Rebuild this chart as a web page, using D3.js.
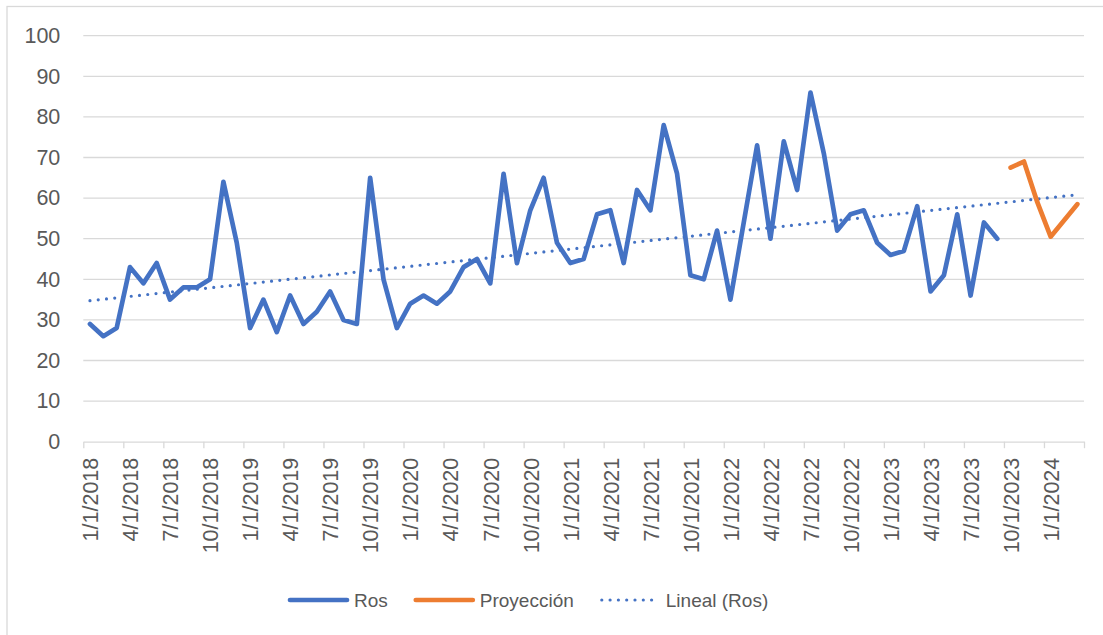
<!DOCTYPE html>
<html>
<head>
<meta charset="utf-8">
<script src="https://cdn.jsdelivr.net/npm/d3@7"></script>
<style>
  body { margin: 0; background: #fff; }
  svg { display: block; font-family: "Liberation Sans", Arial, sans-serif; }
</style>
</head>
<body>
<svg></svg>
<script>
// months from 1/1/2018, one entry per month index
let monthCount = 75;

let rosValues = [
    29, 26, 28, 43, 39, 44, 35, 38, 38, 40, 64, 49,
    28, 35, 27, 36, 29, 32, 37, 30, 29, 65, 40, 28,
    34, 36, 34, 37, 43, 45, 39, 66, 44, 57, 65, 49,
    44, 45, 56, 57, 44, 62, 57, 78, 66, 41, 40, 52,
    35, 54, 73, 50, 74, 62, 86, 71, 52, 56, 57, 49,
    46, 47, 58, 37, 41, 56, 36, 54, 50
];

// projection starts at month index 69 (10/1/2023)
let projStart = 69;
let projValues = [67.5, 69, 59, 50.5, 54.5, 58.5];

let tickLabels = [
    "1/1/2018", "4/1/2018", "7/1/2018", "10/1/2018",
    "1/1/2019", "4/1/2019", "7/1/2019", "10/1/2019",
    "1/1/2020", "4/1/2020", "7/1/2020", "10/1/2020",
    "1/1/2021", "4/1/2021", "7/1/2021", "10/1/2021",
    "1/1/2022", "4/1/2022", "7/1/2022", "10/1/2022",
    "1/1/2023", "4/1/2023", "7/1/2023", "10/1/2023",
    "1/1/2024"
];

let yTicks = [0, 10, 20, 30, 40, 50, 60, 70, 80, 90, 100];
let legendNames = ["Ros", "Proyección", "Lineal (Ros)"];

let width = 1103;
let height = 635;
let plotLeft = 83.3;
let plotRight = 1084;
let plotTop = 35.7;
let plotBottom = 441.7;

let blue = "#4472C4";
let orange = "#ED7D31";
let grid = "#D9D9D9";
let textColor = "#595959";

let svg = d3.select("svg")
    .attr("width", width)
    .attr("height", height);

// chart border
svg.append("rect")
    .attr("x", 7)
    .attr("y", 6.5)
    .attr("width", width + 10)
    .attr("height", height + 10)
    .attr("fill", "#fff")
    .attr("stroke", grid)
    .attr("stroke-width", 1.3);

let xScale = d3.scaleLinear()
    .domain([0, monthCount])
    .range([plotLeft, plotRight]);

let yScale = d3.scaleLinear()
    .domain([0, 100])
    .range([plotBottom, plotTop]);

// gridlines
svg.append("g")
    .selectAll("line")
    .data(yTicks.filter((d) => d > 0))
    .enter()
    .append("line")
    .attr("x1", plotLeft)
    .attr("x2", plotRight)
    .attr("y1", (d) => yScale(d))
    .attr("y2", (d) => yScale(d))
    .attr("stroke", grid)
    .attr("stroke-width", 1.3);

// y axis labels
let yAxis = d3.axisLeft(yScale)
    .tickValues(yTicks)
    .tickSize(0)
    .tickPadding(23);

let yG = svg.append("g")
    .attr("transform", "translate(" + plotLeft + ", 0)")
    .call(yAxis);
yG.select(".domain").remove();
yG.selectAll("text")
    .attr("fill", textColor)
    .style("font-size", "21.5px");

// x axis: ticks every quarter, labels centred on the month
let tickVals = d3.range(0, monthCount + 1, 3);
let xAxis = d3.axisBottom(xScale)
    .tickValues(tickVals)
    .tickSize(6.5)
    .tickSizeOuter(0)
    .tickFormat((d, i) => tickLabels[i] || "");

let xG = svg.append("g")
    .attr("transform", "translate(0, " + plotBottom + ")")
    .call(xAxis);
xG.select(".domain").attr("stroke", grid).attr("stroke-width", 1.3);
xG.selectAll(".tick line").attr("stroke", grid).attr("stroke-width", 1.3);
xG.selectAll("text")
    .attr("fill", textColor)
    .style("font-size", "21.5px")
    .attr("text-anchor", "end")
    .attr("dy", "0.36em")
    .attr("y", 0)
    .attr("transform", "translate(" + (xScale(0.5) - xScale(0)) + ", 16) rotate(-90)");

// trendline (least squares over Ros)
let mx = d3.mean(rosValues, (d, i) => i);
let my = d3.mean(rosValues);
let slope = d3.sum(rosValues, (d, i) => (i - mx) * (d - my)) / d3.sum(rosValues, (d, i) => (i - mx) * (i - mx));
let icpt = my - slope * mx;
let trendEnd = projStart + projValues.length - 1;

let line = d3.line()
    .x((d) => xScale(d[0] + 0.5))
    .y((d) => yScale(d[1]));

svg.append("path")
    .datum([[0, icpt], [trendEnd, icpt + slope * trendEnd]])
    .attr("d", line)
    .attr("fill", "none")
    .attr("stroke", blue)
    .attr("stroke-width", 3.2)
    .attr("stroke-linecap", "round")
    .attr("stroke-dasharray", "0 8.3");

svg.append("path")
    .datum(rosValues.map((d, i) => [i, d]))
    .attr("d", line)
    .attr("fill", "none")
    .attr("stroke", blue)
    .attr("stroke-width", 4.7)
    .attr("stroke-linejoin", "round")
    .attr("stroke-linecap", "round");

svg.append("path")
    .datum(projValues.map((d, i) => [projStart + i, d]))
    .attr("d", line)
    .attr("fill", "none")
    .attr("stroke", orange)
    .attr("stroke-width", 4.7)
    .attr("stroke-linejoin", "round")
    .attr("stroke-linecap", "round");

// legend
let legend = svg.append("g");
let legendY = 600;
let lx = 288;
let styles = [
    { color: blue, w: 4.7, dash: null },
    { color: orange, w: 4.7, dash: null },
    { color: blue, w: 3.2, dash: "0 8.3" }
];

legendNames.forEach((name, i) => {
    let s = styles[i];
    legend.append("line")
        .attr("x1", lx + 2)
        .attr("x2", lx + 59)
        .attr("y1", legendY)
        .attr("y2", legendY)
        .attr("stroke", s.color)
        .attr("stroke-width", s.w)
        .attr("stroke-linecap", "round")
        .attr("stroke-dasharray", s.dash);
    let t = legend.append("text")
        .attr("x", lx + 66)
        .attr("y", legendY + 7)
        .attr("fill", textColor)
        .style("font-size", "19px")
        .text(name);
    lx = lx + 66 + t.node().getComputedTextLength() + 26;
});
</script>
</body>
</html>
